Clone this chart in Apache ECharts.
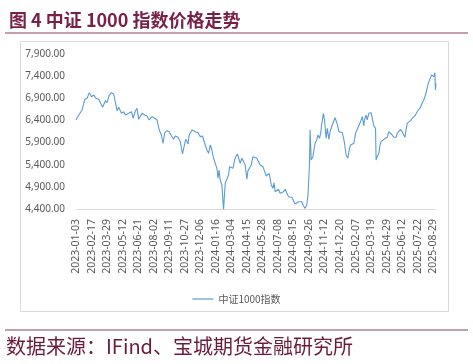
<!DOCTYPE html>
<html><head><meta charset="utf-8">
<script src="https://cdn.jsdelivr.net/npm/echarts@6/dist/echarts.min.js"></script>
<style>html,body{margin:0;padding:0;background:#fff}#c{width:473px;height:364px}</style>
</head><body><div id="c"></div>
<script>
const titleText = '图 4 中证 1000 指数价格走势';
const sourceText = '数据来源：IFind、宝城期货金融研究所';
const seriesName = '中证1000指数';
const firstDay = '2023-01-03';
const lastDay = '2025-09-05';
// exchange closures on weekdays (China A-share calendar)
const holidays = [
  '2023-01-02','2023-01-23','2023-01-24','2023-01-25','2023-01-26','2023-01-27','2023-04-05',
  '2023-05-01','2023-05-02','2023-05-03','2023-06-22','2023-06-23','2023-09-29',
  '2023-10-02','2023-10-03','2023-10-04','2023-10-05','2023-10-06',
  '2024-01-01','2024-02-09','2024-02-12','2024-02-13','2024-02-14','2024-02-15','2024-02-16',
  '2024-04-04','2024-04-05','2024-05-01','2024-05-02','2024-05-03','2024-06-10',
  '2024-09-16','2024-09-17','2024-10-01','2024-10-02','2024-10-03','2024-10-04','2024-10-07',
  '2025-01-01','2025-01-28','2025-01-29','2025-01-30','2025-01-31','2025-02-03','2025-02-04',
  '2025-04-04','2025-05-01','2025-05-02','2025-05-05','2025-06-02'
];
const yTickValues = [4400, 4900, 5400, 5900, 6400, 6900, 7400, 7900];
// trading-day index of each sampled close
const sampleDay = [
  0,5,11,16,20,24,28,32,36,41,46,48,53,56,60,64,68,71,74,77,
  82,86,89,95,100,103,107,110,113,119,124,128,132,137,142,146,150,154,157,160,
  164,168,172,176,179,184,188,192,196,198,202,204,209,212,215,220,224,228,232,236,
  239,242,245,248,251,254,256,258,260,263,266,269,272,275,277,280,283,286,288,291,
  293,296,299,302,305,308,310,312,316,319,322,326,329,332,337,340,343,346,348,350,
  352,355,357,359,362,365,368,371,374,377,380,383,386,389,392,395,398,401,404,407,
  410,413,416,418,421,422,424,427,429,431,434,436,439,441,443,446,448,451,453,456,
  458,462,465,467,471,474,476,480,483,484,487,489,490,493,495,498,501,504,507,510,
  513,516,519,520,523,525,528,531,532,535,537,540,541,543,546,548,550,553,555,558,
  561,564,567,570,573,575,577,579,582,585,588,591,593,595,597,600,603,606,609,612,
  615,618,621,624,627,630,633,635,637,639,641,643,645,647,648,649
];
const closeValue = [
  6410,6522,6636,6877,6900,7027,6936,6974,6900,6877,6748,6696,6846,6800,6974,7027,6997,6974,6620,6696,
  6561,6597,6522,6561,6597,6448,6613,6674,6425,6561,6522,6500,6410,6484,6448,6410,6184,6071,5884,6124,
  6169,6146,6049,5974,6049,6019,5920,5642,5884,5974,5868,6071,6184,6222,6146,6124,6034,6049,5884,5732,
  5657,5845,5732,5545,5567,5319,5093,5281,5055,4942,4390,4980,5017,5168,5356,5394,5319,5507,5582,5642,
  5620,5432,5545,5470,5394,5071,5266,5221,5394,5582,5597,5545,5567,5394,5356,5319,5145,5190,5206,5093,
  4942,4868,4994,4791,4829,4845,4755,4791,4791,4845,4890,4678,4716,4664,4678,4513,4468,4565,4528,4565,
  4468,4415,4490,4678,5432,6184,5507,5582,5545,5884,5959,6071,5997,6109,6319,6561,6410,5997,6222,5974,
  6146,6297,6259,6462,6319,6146,6184,6124,5959,5884,5620,5642,5545,5771,5845,5808,5884,6109,6199,6184,
  6372,6484,6274,6410,6522,6410,6561,6597,6575,6394,6274,6222,5507,5582,5657,5845,5920,5884,5974,5943,
  6019,6146,6109,6071,6019,5974,6019,6109,6109,6199,6146,6109,6019,6184,6334,6349,6394,6448,6484,6522,
  6597,6650,6696,6787,6862,6974,7125,7238,7298,7275,7426,7464,7388,7478,7087,7238
];

function buildTradingDays() {
  const out = [];
  const closed = new Set(holidays);
  const d = new Date(firstDay + 'T00:00:00Z');
  const end = new Date(lastDay + 'T00:00:00Z');
  while (d <= end) {
    const wd = d.getUTCDay();
    const s = d.toISOString().slice(0, 10);
    if (wd !== 0 && wd !== 6 && !closed.has(s)) out.push(s);
    d.setUTCDate(d.getUTCDate() + 1);
  }
  return out;
}
const tradingDays = buildTradingDays();
const seriesData = sampleDay.map((day, i) => [tradingDays[day], closeValue[i]]);

const chart = echarts.init(document.getElementById('c'), null, { renderer: 'canvas' });
const fmt = v => v.toLocaleString('en-US', { minimumFractionDigits: 2, maximumFractionDigits: 2 });
chart.setOption({
  animation: false,
  backgroundColor: '#ffffff',
  textStyle: { fontFamily: '"Noto Sans", "Noto Sans CJK SC", sans-serif' },
  title: {
    text: titleText, left: 4, top: 6,
    textStyle: { fontFamily: '"Noto Sans CJK SC", sans-serif', fontWeight: 'bold', fontSize: 18, color: '#7A1F47' }
  },
  graphic: [
    { type: 'rect', z: -1, shape: { x: 20.5, y: 41.5, width: 428, height: 270 },
      style: { fill: 'none', stroke: '#d9d9d9', lineWidth: 1 } },
    { type: 'line', shape: { x1: 5, y1: 33, x2: 468, y2: 33 },
      style: { stroke: '#B07F97', lineWidth: 1.5 } },
    { type: 'line', shape: { x1: 5, y1: 330, x2: 468, y2: 330 },
      style: { stroke: '#B07F97', lineWidth: 1.5 } },
    { type: 'text', left: 6, top: 336,
      style: { text: sourceText, fontFamily: '"Noto Sans CJK SC", sans-serif', fontSize: 20, fill: '#6B1A3D' } }
  ],
  legend: {
    data: [{ name: seriesName, itemStyle: { color: '#9DC3E6' } }],
    left: 'center', top: 289, icon: 'rect', itemWidth: 21, itemHeight: 2, itemGap: 10,
    textStyle: { fontSize: 10, color: '#595959', fontFamily: '"Noto Sans CJK SC", sans-serif' }
  },
  grid: { left: 76, right: 37, top: 54, bottom: 155, containLabel: false },
  xAxis: {
    type: 'category', data: tradingDays, boundaryGap: false,
    axisLine: { show: true, lineStyle: { color: '#d9d9d9', width: 1 } },
    axisTick: { show: false },
    axisLabel: { interval: 27, rotate: 90, fontSize: 10.5, color: '#595959', margin: 10 },
    splitLine: { show: false }
  },
  yAxis: {
    type: 'value', min: 4400, max: 7900, interval: 100,
    axisLine: { show: false }, axisTick: { show: false }, splitLine: { show: false },
    axisLabel: {
      fontSize: 10, color: '#595959', margin: 11,
      formatter: v => (yTickValues.indexOf(Math.round(v)) >= 0 ? fmt(Math.round(v)) : '')
    }
  },
  series: [{
    name: seriesName, type: 'line', data: seriesData, showSymbol: false, symbol: 'none',
    lineStyle: { color: '#5B9BD5', width: 1.1 }, itemStyle: { color: '#5B9BD5' }
  }]
});
</script></body></html>
